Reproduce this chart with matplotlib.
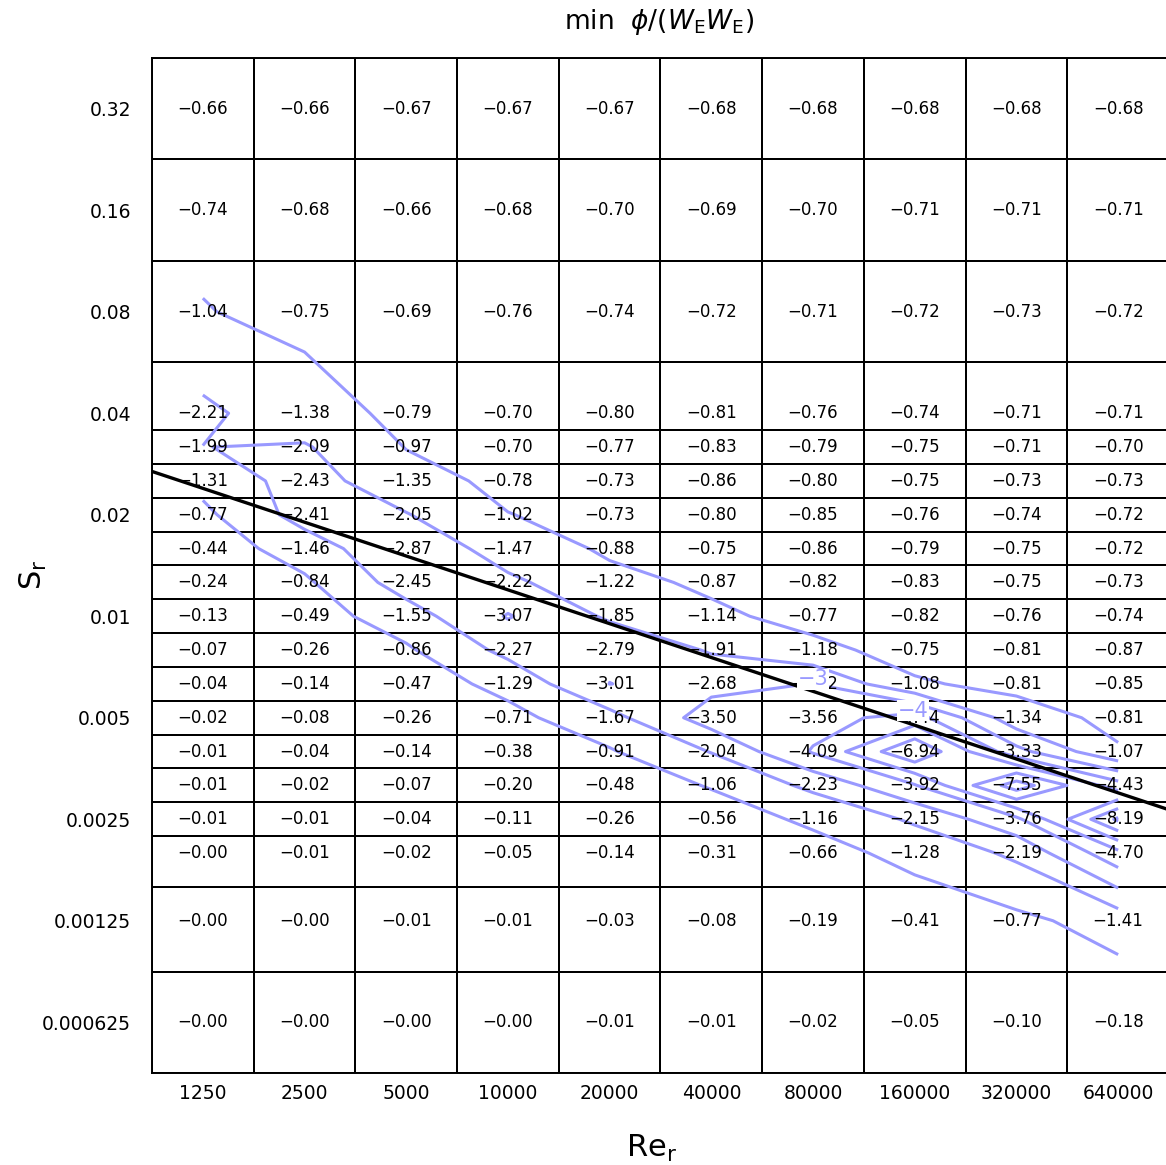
import numpy as np
import matplotlib
matplotlib.use("Agg")
import matplotlib.pyplot as plt
from matplotlib.colors import ListedColormap
import matplotlib.transforms as mtransforms

# ---------------- data ----------------
re_vals = [1250, 2500, 5000, 10000, 20000, 40000, 80000, 160000, 320000, 640000]
re_labels = ["1250", "2500", "5000", "10000", "20000", "40000", "80000", "160000", "320000", "640000"]

# Sr row centres (top to bottom)
sr_coarse_top = [0.32, 0.16, 0.08]
sr_fine = [0.04 * 2 ** (-k / 3) for k in range(14)]
sr_coarse_bot = [0.00125, 0.000625]
sr_vals = sr_coarse_top + sr_fine + sr_coarse_bot

sr_ticks = [0.32, 0.16, 0.08, 0.04, 0.02, 0.01, 0.005, 0.0025, 0.00125, 0.000625]
sr_tick_labels = ["0.32", "0.16", "0.08", "0.04", "0.02", "0.01", "0.005", "0.0025", "0.00125", "0.000625"]

row_032 = [-0.66, -0.66, -0.67, -0.67, -0.67, -0.68, -0.68, -0.68, -0.68, -0.68]
row_016 = [-0.74, -0.68, -0.66, -0.68, -0.70, -0.69, -0.70, -0.71, -0.71, -0.71]
row_008 = [-1.04, -0.75, -0.69, -0.76, -0.74, -0.72, -0.71, -0.72, -0.73, -0.72]
row_f00 = [-2.21, -1.38, -0.79, -0.70, -0.80, -0.81, -0.76, -0.74, -0.71, -0.71]
row_f01 = [-1.99, -2.09, -0.97, -0.70, -0.77, -0.83, -0.79, -0.75, -0.71, -0.70]
row_f02 = [-1.31, -2.43, -1.35, -0.78, -0.73, -0.86, -0.80, -0.75, -0.73, -0.73]
row_f03 = [-0.77, -2.41, -2.05, -1.02, -0.73, -0.80, -0.85, -0.76, -0.74, -0.72]
row_f04 = [-0.44, -1.46, -2.87, -1.47, -0.88, -0.75, -0.86, -0.79, -0.75, -0.72]
row_f05 = [-0.24, -0.84, -2.45, -2.22, -1.22, -0.87, -0.82, -0.83, -0.75, -0.73]
row_f06 = [-0.13, -0.49, -1.55, -3.07, -1.85, -1.14, -0.77, -0.82, -0.76, -0.74]
row_f07 = [-0.07, -0.26, -0.86, -2.27, -2.79, -1.91, -1.18, -0.75, -0.81, -0.87]
row_f08 = [-0.04, -0.14, -0.47, -1.29, -3.01, -2.68, -3.02, -1.08, -0.81, -0.85]
row_f09 = [-0.02, -0.08, -0.26, -0.71, -1.67, -3.50, -3.56, -4.44, -1.34, -0.81]
row_f10 = [-0.01, -0.04, -0.14, -0.38, -0.91, -2.04, -4.09, -6.94, -3.33, -1.07]
row_f11 = [-0.01, -0.02, -0.07, -0.20, -0.48, -1.06, -2.23, -3.92, -7.55, -4.43]
row_f12 = [-0.01, -0.01, -0.04, -0.11, -0.26, -0.56, -1.16, -2.15, -3.76, -8.19]
row_f13 = [-0.00, -0.01, -0.02, -0.05, -0.14, -0.31, -0.66, -1.28, -2.19, -4.70]
row_000125 = [-0.00, -0.00, -0.01, -0.01, -0.03, -0.08, -0.19, -0.41, -0.77, -1.41]
row_0000625 = [-0.00, -0.00, -0.00, -0.00, -0.01, -0.01, -0.02, -0.05, -0.10, -0.18]

rows = [row_032, row_016, row_008, row_f00, row_f01, row_f02, row_f03, row_f04,
        row_f05, row_f06, row_f07, row_f08, row_f09, row_f10, row_f11, row_f12,
        row_f13, row_000125, row_0000625]

contour_levels = [-8, -7, -6, -5, -4, -3, -2, -1]
label_levels = [-3, -4]
label_re = [80000, 158000]
label_sr = [0.00650, 0.00525]
line_coef = 0.258       # Sr = coef * Re^(-1/3)
line_exp = -1.0 / 3.0

# ---------------- figure ----------------
W, H = 1166, 1165
fig = plt.figure(figsize=(W / 100, H / 100), dpi=100)
ax = fig.add_axes([152 / W, 1 - 1073 / H, (1169 - 152) / W, (1073 - 58) / H])

re = np.array(re_vals, float)
sr = np.array(sr_vals, float)
Z = np.array(rows, float)

lre = np.log2(re)
lsr = np.log2(sr)
# cell edges (geometric midpoints)
xe = np.concatenate([[lre[0] - 0.5], (lre[:-1] + lre[1:]) / 2, [lre[-1] + 0.5]])
ye = np.concatenate([[lsr[0] + 0.5], (lsr[:-1] + lsr[1:]) / 2, [lsr[-1] - 0.5]])

ax.set_xscale("log", base=2)
ax.set_yscale("log", base=2)

ax.pcolormesh(2 ** xe, 2 ** ye, Z, cmap=ListedColormap(["white"]),
              edgecolors="black", linewidth=1.2, shading="flat", zorder=1)

ax.set_xlim(2 ** xe[0], 2 ** xe[-1])
ax.set_ylim(2 ** ye[-1], 2 ** ye[0])

# contours computed in log-space
lx0, lx1 = xe[0], xe[-1]
ly0, ly1 = ye[-1], ye[0]
T = mtransforms.Affine2D().translate(-lx0, -ly0).scale(1 / (lx1 - lx0), 1 / (ly1 - ly0)) + ax.transAxes
LX, LY = np.meshgrid(lre, lsr)
blue = "#9999ff"
cs = ax.contour(LX, LY, Z, levels=contour_levels, colors=blue, linewidths=2.2,
                linestyles="solid", transform=T, zorder=2, algorithm="mpl2005")
for lv, rx, sy in zip(label_levels, label_re, label_sr):
    ax.text(rx, sy, "\u2212%d" % abs(lv), color=blue, fontsize=15, ha="center",
            va="center", zorder=6,
            bbox=dict(boxstyle="square,pad=0.02", fc="white", ec="none"))

# black power-law line
rl = np.array([re[0] / 4, re[-1] * 4])
ax.plot(rl, line_coef * rl ** line_exp, color="black", lw=2.4, zorder=3)

# cell labels
for i, s in enumerate(sr):
    for j, r in enumerate(re):
        ax.text(r, s, ("%.2f" % Z[i, j]).replace("-", "\u2212"), ha="center", va="center",
                fontsize=12, color="black", zorder=5)

ax.set_xticks(re_vals)
ax.set_xticklabels(re_labels, fontsize=13.5)
ax.set_yticks(sr_ticks)
ax.set_yticklabels(sr_tick_labels, fontsize=13.5)
ax.xaxis.set_minor_locator(matplotlib.ticker.NullLocator())
ax.yaxis.set_minor_locator(matplotlib.ticker.NullLocator())
ax.tick_params(axis="both", length=0)
ax.tick_params(axis="x", pad=8)
ax.tick_params(axis="y", pad=15)
for sp in ax.spines.values():
    sp.set_linewidth(1.4)

fig.text(659 / W, 1 - 22 / H, r"min  $\phi/(W_\mathrm{E}W_\mathrm{E})$", ha="center",
         va="center", fontsize=19)
fig.text(652 / W, 1 - 1148 / H, r"Re$_\mathrm{r}$", ha="center", va="center", fontsize=22)
fig.text(33 / W, 1 - 575 / H, r"S$_\mathrm{r}$", ha="center", va="center", fontsize=22,
         rotation=90)

fig.savefig("out.png", dpi=100)
